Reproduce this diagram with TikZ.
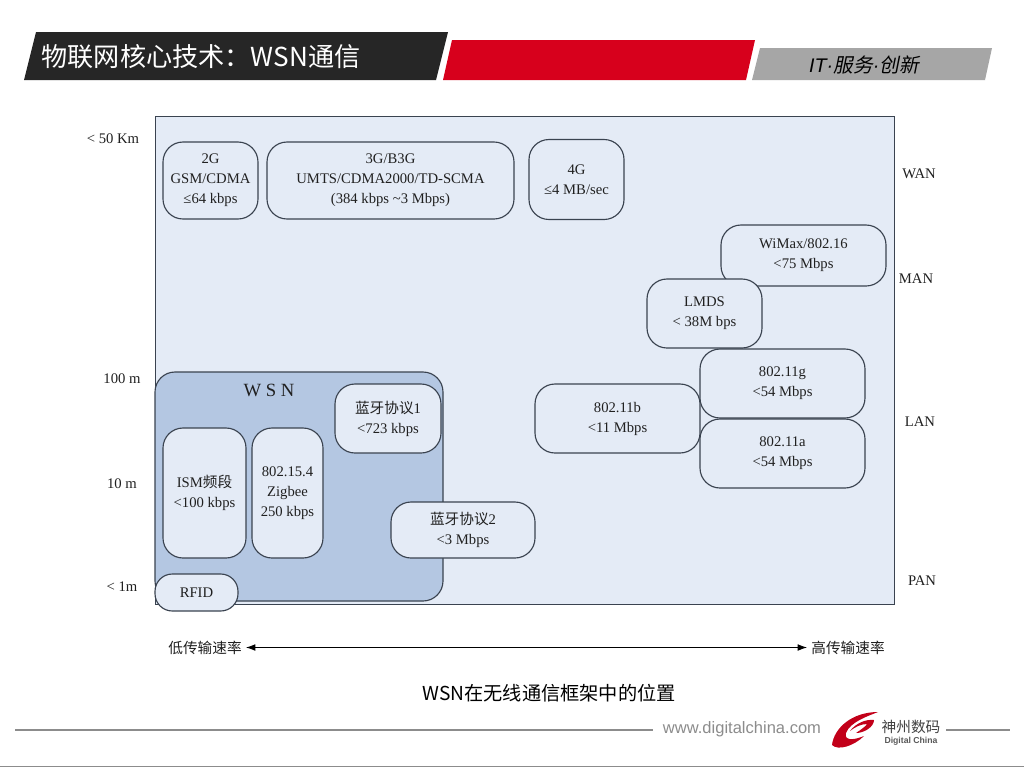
\documentclass[tikz,border=0pt]{standalone}
\usepackage{fontspec}
\usetikzlibrary{arrows.meta}
\setmainfont{Liberation Serif}
\newfontfamily\cjk{Noto Sans CJK SC}
\newfontfamily\cjkslant[FakeSlant=0.2]{Noto Sans CJK SC}
\newfontfamily\sans{Liberation Sans}
\definecolor{panelblue}{HTML}{E4EBF6}
\definecolor{wsnblue}{HTML}{B4C7E2}
\definecolor{boxline}{HTML}{3A4350}
\definecolor{labelgray}{HTML}{202020}
\definecolor{bandblack}{HTML}{262626}
\definecolor{bandred}{HTML}{D7001C}
\definecolor{bandgray}{HTML}{A6A6A6}
\definecolor{footgray}{HTML}{8C8C8C}
\tikzset{
  netbox/.style={draw=boxline, fill=panelblue, line width=0.85pt, rounded corners=15pt,
    align=center, inner sep=0pt, text=labelgray, font=\fontsize{11}{15}\selectfont},
  rangelabel/.style={text=labelgray, font=\fontsize{11}{13}\selectfont, inner sep=1pt},
  ratelabel/.style={text=labelgray, font=\fontsize{11}{13}\cjk, inner sep=1pt}
}
\begin{document}
\begin{tikzpicture}[x=0.75pt,y=-0.75pt]
   \useasboundingbox (0,0) rectangle (1024,768);
   \fill [white] (0,0) rectangle (1024,768);

   % title bands
   \fill [bandblack] (36,32) -- (448,32) -- (436,80) -- (24,80) -- cycle;
   \fill [bandred] (452,40) -- (755,40) -- (746,80) -- (443,80) -- cycle;
   \fill [bandgray] (760,48) -- (992,48) -- (985,80) -- (752,80) -- cycle;
   \node (title) at (201,56.5) [text=white, font=\fontsize{19.6}{22}\cjk, inner sep=0pt] {物联网核心技术：WSN通信};
   \node (slogan) at (864,65) [text=black, font=\fontsize{14.8}{17}\cjkslant, inner sep=0pt] {{\sans\itshape IT·}服务{\sans\itshape ·}创新};

   % panel
   \node (panel) at (524.5,360) [draw=boxline, fill=panelblue, line width=0.7pt, minimum width=554.25pt, minimum height=366pt, inner sep=0pt] {};
   \node (WSN) at (299,486.5) [draw=boxline, fill=wsnblue, line width=0.85pt, rounded corners=15pt, minimum width=216pt, minimum height=171.75pt, inner sep=0pt] {};
   \node (WSNtitle) at (269,390) [text=labelgray, font=\fontsize{14}{16}\selectfont, inner sep=0pt] {W S N};

   % WAN row
   \node (GG) at (210.5,180.5) [netbox, minimum width=71.25pt, minimum height=57.75pt] {2G\\GSM/CDMA\\≤64 kbps};
   \node (GGG) at (390.5,180.5) [netbox, minimum width=185.25pt, minimum height=57.75pt] {3G/B3G\\UMTS/CDMA2000/TD-SCMA\\(384 kbps \textasciitilde3 Mbps)};
   \node (GGGG) at (576.5,179.5) [netbox, minimum width=71.25pt, minimum height=60pt] {4G\\≤4 MB/sec};

   % right group
   \node (WiMax) at (803.5,255.5) [netbox, minimum width=123.75pt, minimum height=45.75pt] {WiMax/802.16\\<75 Mbps};
   \node (LMDS) at (704.5,313.5) [netbox, minimum width=86.25pt, minimum height=51.75pt] {LMDS\\< 38M bps};
   \node (Elevenb) at (617.5,418.5) [netbox, minimum width=123.75pt, minimum height=51.75pt] {802.11b\\<11 Mbps};
   \node (Eleveng) at (782.5,383.5) [netbox, minimum width=123.75pt, minimum height=51.75pt] {802.11g\\<54 Mbps};
   \node (Elevena) at (782.5,453.5) [netbox, minimum width=123.75pt, minimum height=51.75pt] {802.11a\\<54 Mbps};

   % inside WSN
   \node (ISM) at (204.5,493) [netbox, minimum width=62.25pt, minimum height=97.5pt] {ISM{\cjk 频段}\\<100 kbps};
   \node (Zigbee) at (287.5,493) [netbox, minimum width=53.25pt, minimum height=97.5pt] {802.15.4\\Zigbee\\250 kbps};
   \node (BlueOne) at (388,418.5) [netbox, minimum width=79.5pt, minimum height=51.75pt] {{\cjk 蓝牙协议}1\\<723 kbps};
   \node (BlueTwo) at (463,530) [netbox, minimum width=108pt, minimum height=42pt] {{\cjk 蓝牙协议}2\\<3 Mbps};
   \node (RFID) at (196.5,592.5) [netbox, minimum width=62.25pt, minimum height=27.75pt, rounded corners=13pt] {RFID};

   % left and right scales
   \node (far) at (113,138.5) [rangelabel] {< 50 Km};
   \node (hundred) at (122,378.5) [rangelabel] {100 m};
   \node (ten) at (122,483.5) [rangelabel] {10 m};
   \node (one) at (122,586.5) [rangelabel] {< 1m};
   \node (WAN) at (919,174) [rangelabel] {WAN};
   \node (MAN) at (916,279) [rangelabel] {MAN};
   \node (LAN) at (920,422) [rangelabel] {LAN};
   \node (PAN) at (922,581) [rangelabel] {PAN};

   % rate axis
   \node (lowrate) at (205,647.5) [ratelabel] {低传输速率};
   \node (highrate) at (848,647.5) [ratelabel] {高传输速率};
   \draw [{Latex[length=7pt,width=5pt]}-{Latex[length=7pt,width=5pt]}, line width=0.7pt, shorten <=2pt, shorten >=2pt] (lowrate) -- (highrate);

   \node (caption) at (549,693) [text=black, font=\fontsize{14.4}{17}\cjk, inner sep=0pt] {WSN在无线通信框架中的位置};

   % footer
   \node (web) at (742,729) [text=footgray, font=\fontsize{12.4}{15}\sans, inner sep=0pt] {www.digitalchina.com};
   \node (brand) at (911,727) [text=black!75, font=\fontsize{11}{12}\cjk, inner sep=0pt] {神州数码};
   \node (brandlatin) at (911,741) [text=black!65, font=\fontsize{6.5}{7}\sans\bfseries, inner sep=0pt] {Digital China};
   \draw [footgray, line width=1.4pt] (15,730) -- (653,730);
   \draw [footgray, line width=1.4pt] (946,730) -- (1010,730);
   \draw [footgray, line width=0.8pt] (0,766.5) -- (1024,766.5);

   % logo
   \fill [bandred!90!black] (832,745) .. controls (834,728) and (852,712) .. (878,712)
      .. controls (868,716) and (850,722) .. (846,733) .. controls (844,740) and (852,741) .. (864,736)
      .. controls (854,746) and (838,751) .. (832,745) -- cycle;
   \fill [bandred!90!black] (850,731) .. controls (856,723) and (866,719) .. (874,720)
      .. controls (874,727) and (864,733) .. (856,733)
      .. controls (862,729) and (866,726) .. (867,724) .. controls (861,724) and (855,727) .. (850,731) -- cycle;
\end{tikzpicture}
\end{document}
